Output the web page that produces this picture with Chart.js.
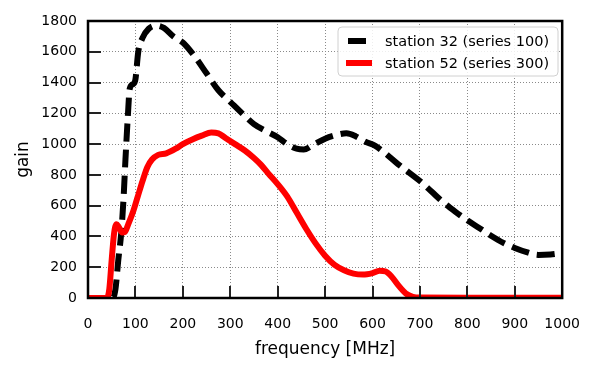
<!DOCTYPE html>
<html>
<head>
<meta charset="utf-8">
<script src="https://cdn.jsdelivr.net/npm/chart.js@4/dist/chart.umd.min.js"></script>
<style>
  html, body { margin: 0; padding: 0; background: #fff; }
  #wrap { width: 598px; height: 373px; }
</style>
</head>
<body>
<div id="wrap"><canvas id="c" width="598" height="373"></canvas></div>
<script>
// station 32 (series 100), black dashed
const freq32 = [0, 40, 52, 58, 64, 70, 75, 79, 84, 88, 95, 100, 106, 115, 128, 145, 160, 180, 200, 225, 250, 275, 300, 325, 350, 375, 400, 420, 440, 455, 475, 500, 525, 545, 565, 585, 605, 625, 650, 675, 700, 725, 750, 775, 800, 825, 850, 875, 900, 925, 950, 975, 1000];
const gain32 = [0, 0, 0, 60, 250, 420, 650, 900, 1180, 1360, 1390, 1420, 1600, 1690, 1750, 1770, 1755, 1700, 1660, 1570, 1460, 1350, 1275, 1200, 1130, 1085, 1045, 1000, 970, 965, 995, 1035, 1060, 1070, 1050, 1015, 990, 945, 880, 820, 760, 690, 620, 560, 505, 455, 405, 360, 325, 298, 280, 283, 292];

// station 52 (series 300), red
const freq52 = [0, 40, 45, 50, 55, 60, 65, 72, 78, 85, 95, 105, 115, 125, 135, 148, 165, 185, 200, 220, 240, 260, 275, 290, 310, 330, 350, 365, 380, 400, 420, 440, 460, 480, 500, 520, 540, 560, 580, 600, 615, 628, 640, 655, 670, 685, 700, 800, 900, 1000];
const gain52 = [0, 0, 60, 250, 420, 480, 460, 425, 430, 480, 560, 660, 760, 850, 900, 930, 940, 970, 1000, 1030, 1055, 1075, 1070, 1040, 1000, 960, 910, 865, 810, 740, 660, 555, 450, 355, 275, 215, 180, 158, 152, 162, 177, 172, 140, 80, 30, 8, 3, 2, 2, 2];

const seriesLabels = ['station 32 (series 100)', 'station 52 (series 300)'];
const xTicks = [0, 100, 200, 300, 400, 500, 600, 700, 800, 900, 1000];
const yTicks = [0, 200, 400, 600, 800, 1000, 1200, 1400, 1600, 1800];

Chart.defaults.font.family = "'DejaVu Sans', sans-serif";
Chart.defaults.color = '#000';

const pts = (xs, ys) => xs.map((x, i) => ({ x: x, y: ys[i] }));

// frame, inward ticks and legend drawn by hand (matplotlib look)
const framePlugin = {
  id: 'frame',
  afterDraw(chart) {
    const { ctx, chartArea: a, scales } = chart;
    ctx.save();
    ctx.strokeStyle = '#222';
    ctx.lineWidth = 2;
    xTicks.forEach(v => {
      const px = Math.round(scales.x.getPixelForValue(v));
      ctx.beginPath(); ctx.moveTo(px, a.bottom); ctx.lineTo(px, a.bottom - 12); ctx.stroke();
    });
    yTicks.forEach(v => {
      const py = Math.round(scales.y.getPixelForValue(v));
      ctx.beginPath(); ctx.moveTo(a.left, py); ctx.lineTo(a.left + 13, py); ctx.stroke();
    });
    ctx.strokeStyle = '#000';
    ctx.lineWidth = 2.5;
    ctx.strokeRect(a.left, a.top, a.right - a.left, a.bottom - a.top);

    // legend
    const lx = 338, ly = 27, lw = 220, lh = 49;
    ctx.beginPath();
    ctx.roundRect(lx, ly, lw, lh, 4);
    ctx.fillStyle = 'rgba(255,255,255,0.85)';
    ctx.fill();
    ctx.strokeStyle = '#d0d0d0';
    ctx.lineWidth = 1;
    ctx.stroke();
    ctx.font = "14.5px 'DejaVu Sans'";
    ctx.textBaseline = 'middle';
    ctx.fillStyle = '#000';
    chart.data.datasets.forEach((ds, i) => {
      const yy = ly + 14 + i * 22;
      ctx.strokeStyle = ds.borderColor;
      ctx.lineWidth = 6;
      ctx.setLineDash(ds.borderDash || []);
      ctx.lineDashOffset = ds.borderDash ? -2 : 0;
      ctx.beginPath(); ctx.moveTo(346, yy); ctx.lineTo(372, yy); ctx.stroke();
      ctx.setLineDash([]);
      ctx.fillText(ds.label, 385, yy + 1);
    });
    ctx.restore();
  }
};

new Chart(document.getElementById('c'), {
  type: 'line',
  data: {
    datasets: [
      {
        label: seriesLabels[0],
        data: pts(freq32, gain32),
        borderColor: '#000',
        borderWidth: 6,
        borderDash: [18, 8],
        borderCapStyle: 'butt',
        pointRadius: 0,
        fill: false,
        cubicInterpolationMode: 'monotone',
        order: 1
      },
      {
        label: seriesLabels[1],
        data: pts(freq52, gain52),
        borderColor: '#ff0000',
        borderWidth: 6,
        pointRadius: 0,
        fill: false,
        cubicInterpolationMode: 'monotone',
        order: 0
      }
    ]
  },
  options: {
    responsive: false,
    animation: false,
    layout: { padding: { left: 0, top: 21, right: 35, bottom: 0 } },
    plugins: { legend: { display: false }, tooltip: { enabled: false } },
    scales: {
      x: {
        type: 'linear',
        min: 0, max: 1000,
        afterBuildTicks: s => { s.ticks = xTicks.map(v => ({ value: v })); },
        afterFit: s => { s.height = 75; },
        grid: { color: '#8a8a8a', drawTicks: false },
        border: { display: false, dash: [1, 2] },
        ticks: { font: { size: 14 }, padding: 18, maxRotation: 0, callback: v => String(v) },
        title: { display: true, text: 'frequency [MHz]', font: { size: 17 }, padding: { top: 0, bottom: 13 } }
      },
      y: {
        min: 0, max: 1800,
        afterBuildTicks: s => { s.ticks = yTicks.map(v => ({ value: v })); },
        afterFit: s => { s.width = 88; },
        grid: { color: '#8a8a8a', drawTicks: false },
        border: { display: false, dash: [1, 2] },
        ticks: { font: { size: 14 }, padding: 11, callback: v => String(v) },
        title: { display: true, text: 'gain', font: { size: 17 }, padding: { top: 13, bottom: 0 } }
      }
    }
  },
  plugins: [framePlugin]
});
</script>
</body>
</html>
